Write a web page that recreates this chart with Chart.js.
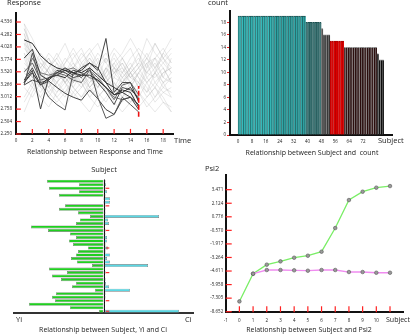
<!DOCTYPE html>
<html>
<head>
<meta charset="utf-8">
<script src="https://cdn.jsdelivr.net/npm/chart.js@4/dist/chart.umd.min.js"></script>
<style>
  body { margin: 0; background: #fff; }
  #wrap { position: relative; width: 410px; height: 334px; overflow: hidden; font-family: "Open Sans", sans-serif; color: #222; }
  canvas { position: absolute; }
  .t { position: absolute; white-space: nowrap; line-height: 1; }
  .cap { font-size: 7px; transform: translateX(-50%); }
  .lab { font-size: 7.5px; }
</style>
</head>
<body>
<div id="wrap">
  <canvas id="c1" width="205" height="167" style="left:0;top:0"></canvas>
  <canvas id="c2" width="205" height="167" style="left:205px;top:0"></canvas>
  <canvas id="c3" width="205" height="167" style="left:0;top:167px"></canvas>
  <canvas id="c4" width="205" height="167" style="left:205px;top:167px"></canvas>

  <div class="t lab" style="left:7px;top:-1px">Response</div>
  <div class="t lab" style="left:174px;top:137px">Time</div>
  <div class="t cap" style="left:95px;top:148px">Relationship between Response and Time</div>

  <div class="t lab" style="left:208px;top:-1px">count</div>
  <div class="t lab" style="left:378px;top:137px">Subject</div>
  <div class="t cap" style="left:312px;top:149px">Relationship between Subject and&nbsp; count</div>

  <div class="t lab" style="left:104px;top:166px;transform:translateX(-50%)">Subject</div>
  <div class="t lab" style="left:16px;top:316px">Yi</div>
  <div class="t lab" style="left:185px;top:316px">Ci</div>
  <div class="t cap" style="left:103px;top:326px">Relationship between Subject, Yi and Ci</div>

  <div class="t lab" style="left:205px;top:165px">Psi2</div>
  <div class="t lab" style="left:386px;top:316px;font-size:7px">Subject</div>
  <div class="t cap" style="left:309px;top:326px">Relationship between Subject and Psi2</div>
</div>
<script>
// ---------- panel 1 : Response vs Time ----------
const respTicks = [2.250, 2.504, 2.758, 3.012, 3.266, 3.520, 3.774, 4.028, 4.282, 4.536];
const timeTicks = [0, 2, 4, 6, 8, 10, 12, 14, 16, 18];

// highlighted subjects, time 1..15
const darkLines = [
  [4.17, 4.10, 3.85, 3.70, 3.60, 3.55, 3.50, 3.45, 3.45, 3.35, 3.20, 3.05, 3.10, 3.20, 2.95],
  [3.80, 3.98, 3.45, 3.35, 3.50, 3.60, 3.50, 3.55, 3.70, 3.60, 3.30, 3.20, 3.10, 3.00, 2.85],
  [3.30, 3.55, 2.76, 3.40, 3.45, 3.55, 3.45, 3.60, 3.70, 3.55, 4.20, 3.10, 3.30, 3.30, 2.90],
  [3.25, 3.90, 3.30, 3.00, 2.85, 2.74, 3.50, 3.40, 3.60, 3.00, 2.57, 2.65, 3.00, 2.85, 2.70],
  [3.35, 3.60, 3.25, 3.33, 3.20, 3.08, 3.00, 2.94, 3.15, 2.97, 2.75, 2.65, 2.95, 3.00, 2.75],
  [3.52, 3.70, 3.35, 3.40, 3.50, 3.45, 3.35, 3.30, 3.55, 3.40, 3.20, 2.95, 3.25, 3.30, 3.05],
  [3.30, 3.50, 3.25, 3.40, 3.45, 3.40, 3.55, 3.50, 3.60, 3.45, 3.30, 3.05, 3.15, 3.10, 2.80],
  [3.25, 3.35, 3.30, 3.35, 3.55, 3.50, 3.40, 3.45, 3.55, 3.30, 3.10, 2.85, 3.20, 3.15, 3.00],
  [3.30, 3.80, 3.50, 3.45, 3.50, 3.55, 3.60, 3.50, 3.40, 3.35, 3.20, 3.00, 2.95, 3.00, 2.85]
];
const darkColors = ['#2a2a2a', '#3a3a3a', '#444', '#555', '#404040', '#666', '#303030', '#4a4a4a', '#777'];

// background subjects, time 1..19
const greyLines = [
  [4.5,3.9,3.6,3.4,3.7,3.3,3.5,3.6,3.2,3.4,3.8,3.5,3.3,3.6,3.9,3.4,3.2,3.5,3.6],
  [4.3,3.7,3.5,3.8,3.4,3.6,3.2,3.5,3.7,3.3,3.5,3.9,3.6,3.4,3.3,3.7,3.8,3.4,3.3],
  [4.1,3.5,3.3,3.6,3.2,3.0,3.4,3.3,3.6,3.8,3.4,3.2,3.5,3.7,3.4,3.1,3.5,3.9,3.7],
  [3.9,3.6,3.8,3.5,3.3,3.7,3.9,3.6,3.4,3.2,3.6,3.4,3.8,4.0,3.6,3.8,3.5,3.3,3.5],
  [3.6,3.3,3.1,3.4,3.6,3.4,3.2,3.0,3.3,3.5,3.1,3.3,3.0,3.2,3.5,3.3,3.0,3.2,3.1],
  [4.4,4.0,3.7,3.5,3.2,3.4,3.6,3.9,3.7,3.5,3.3,3.6,3.8,3.5,3.2,3.6,4.1,3.8,3.6],
  [3.4,3.2,3.5,3.3,3.0,3.2,3.5,3.4,3.1,3.3,3.6,3.3,3.1,2.9,3.2,3.5,3.4,3.6,3.3],
  [4.0,3.8,3.4,3.2,3.5,3.8,3.6,3.3,3.5,3.7,3.9,3.6,3.4,3.6,3.8,3.5,3.7,3.4,3.8],
  [3.2,3.0,3.3,3.1,2.9,3.1,3.3,3.5,3.2,3.0,3.2,3.4,3.3,3.1,3.3,3.0,3.2,2.9,2.8],
  [4.2,3.6,3.9,3.7,3.4,3.6,3.3,3.6,3.9,4.1,3.7,3.5,3.7,3.4,3.6,3.9,3.6,3.8,4.0],
  [3.8,3.4,3.2,3.0,3.3,3.5,3.7,3.4,3.2,3.4,3.1,3.0,3.3,3.5,3.2,3.4,3.6,3.3,3.4],
  [2.7,3.1,3.4,3.2,3.5,3.3,3.0,3.2,3.4,3.1,2.9,3.2,3.0,3.3,3.1,2.8,3.0,3.3,3.0],
  [4.5,4.2,3.8,3.6,3.8,4.1,3.7,3.5,3.8,3.6,3.4,3.7,3.9,4.2,3.9,3.6,3.8,4.0,3.7],
  [3.5,3.7,3.4,3.6,3.8,3.5,3.3,3.7,3.5,3.2,3.5,3.7,3.4,3.2,3.5,3.7,3.3,3.5,3.6],
  [3.0,3.3,3.5,3.2,3.0,2.8,3.1,3.3,3.0,2.8,3.0,3.2,2.9,3.1,2.8,3.0,3.2,3.0,2.7],
  [4.1,3.9,3.6,3.9,3.7,3.5,3.8,4.0,3.6,3.9,3.7,4.0,3.8,3.5,3.7,4.2,3.9,3.7,3.9],
  [3.6,3.4,3.7,3.5,3.3,3.1,3.4,3.2,3.5,3.3,3.6,3.8,3.5,3.3,3.0,3.3,3.5,3.2,3.4],
  [3.3,3.5,3.2,3.4,3.6,3.3,3.5,3.3,3.0,3.2,3.4,3.1,3.4,3.6,3.4,3.2,2.9,3.1,3.2],
  [4.3,3.8,3.5,3.3,3.5,3.7,4.0,3.7,3.9,3.6,3.8,3.6,3.5,3.8,4.0,3.8,3.6,3.9,4.2],
  [3.7,3.5,3.3,3.6,3.9,3.6,3.4,3.6,3.8,3.5,3.3,3.5,3.7,3.4,3.6,3.3,3.5,3.7,3.5],
  [2.9,3.2,3.0,2.8,3.1,3.3,3.1,2.9,2.7,3.0,3.2,2.9,2.7,2.9,3.1,2.9,2.7,2.9,2.7],
  [3.9,3.4,3.6,3.8,3.5,3.3,3.6,3.8,4.0,3.7,3.4,3.6,3.3,3.5,3.7,3.5,3.8,3.6,3.3],
  [3.5,3.3,3.0,3.3,3.1,3.4,3.2,3.0,3.2,3.4,3.2,3.0,3.2,3.5,3.3,3.1,3.3,3.1,3.0],
  [4.4,3.9,3.4,3.1,3.3,3.5,3.3,3.5,3.3,3.5,3.3,3.5,3.6,3.3,3.5,3.8,4.1,3.8,3.5]
];
const redBar = [2.60, 3.23];   // range marker at time 15

// ---------- panel 2 : count per subject ----------
const subjectTicks = [0, 8, 16, 24, 32, 40, 48, 56, 64, 72];
const countTicks = [0, 2, 4, 6, 8, 10, 12, 14, 16, 18];
const counts = [
  19,19,19,19,19,19,19,19,19,19, 19,19,19,19,19,19,19,19,19,19,
  19,19,19,19,19,19,19,19,19,19, 19,19,19,19,19,19,19,19,19,
  18,18,18,18,18,18,18,18,18,
  17,
  16,16,16,16,
  15,15,15,15,15,15,15,15,
  14,14,14,14,14,14,14,14,14,14, 14,14,14,14,14,14,14,14,14,
  13,
  12,12,12
];

// ---------- panel 3 : Yi and Ci per subject ----------
const subjects3 = Array.from({length: 38}, (_, i) => String(i + 1));
const yi = [-57,-25,-55,-25,-45,-1,-1,-39,-45,-26,-14,-24,-28,-73,-56,-34,-28,-35,-31,-16,
            -26,-28,-33,-27,-12,-55,-37,-52,-43,-28,-32,-9,-48,-52,-49,-75,-34,-5];
const ci = [1.5,2,1.5,3,1.5,6,6,1.5,1.5,1.5,55,4,5,1,1.5,1.5,3,3,1.5,4,
            1.5,6,3,6,44,1,1.5,1,1.5,2,5,26,1.5,1.5,1,1,1,75];
const redRows = ['3', '8', '15', '20', '27', '35', '38'];

// ---------- panel 4 : Psi2 ----------
const psiTicks = [-8.652, -7.305, -5.958, -4.611, -3.264, -1.917, -0.570, 0.776, 2.124, 3.471];
const psiX = [-1, 0, 1, 2, 3, 4, 5, 6, 7, 8, 9, 10];
const psiGreen = [-7.63, -4.88, -3.98, -3.65, -3.29, -3.09, -2.69, -0.34, 2.44, 3.27, 3.67, 3.83];
const psiPink = [-4.88, -4.51, -4.51, -4.54, -4.58, -4.51, -4.51, -4.71, -4.71, -4.78, -4.78];

const FONT = "'Open Sans', sans-serif";
Chart.defaults.font.family = FONT;
Chart.defaults.color = '#222';
Chart.defaults.animation = false;
Chart.defaults.plugins.legend.display = false;
Chart.defaults.plugins.tooltip.enabled = false;

const fixTicks = list => scale => { scale.ticks = list.map(v => ({value: v})); };
const tickMarks = (pts, color, r, rot) => ({
  type: 'scatter', data: pts, showLine: false, pointStyle: 'line',
  pointRadius: r, pointRotation: rot, borderColor: color, borderWidth: 1.2,
  pointBorderColor: color, pointBorderWidth: 1.2, clip: false
});

// panel 1
const ds1 = [];
ds1.push(tickMarks(timeTicks.slice(1).map(t => ({x: t, y: 2.305})), '#ff2020', 2.4, 90));
ds1.push(tickMarks(respTicks.map(v => ({x: 0.3, y: v})), '#ff2020', 2.4, 0));
ds1.push({type: 'line', data: redBar.map(v => ({x: 15, y: v})), borderColor: '#ee1111',
          borderWidth: 1.6, borderDash: [5, 2], pointRadius: 0});
darkLines.forEach((l, k) => ds1.push({
  type: 'line', data: l.map((v, i) => ({x: i + 1, y: v})), borderColor: darkColors[k],
  borderWidth: 1, pointRadius: 0, tension: 0
}));
greyLines.forEach(l => ds1.push({
  type: 'line', data: l.map((v, i) => ({x: i + 1, y: v})), borderColor: 'rgba(170,170,170,0.35)',
  borderWidth: 0.8, pointRadius: 0, tension: 0
}));
new Chart(document.getElementById('c1'), {
  type: 'line',
  data: {datasets: ds1},
  options: {
    responsive: false, maintainAspectRatio: false,
    layout: {autoPadding: false, padding: {left: 0, top: 13, right: 32, bottom: 0}},
    scales: {
      x: {type: 'linear', min: 0, max: 19.2, afterBuildTicks: fixTicks(timeTicks),
          afterFit: s => { s.height = 33; },
          grid: {display: false, drawTicks: false}, border: {color: '#111', width: 2},
          ticks: {font: {size: 4.5}, padding: 4, maxRotation: 0}},
      y: {type: 'linear', min: 2.25, max: 4.72, afterBuildTicks: fixTicks(respTicks),
          afterFit: s => { s.width = 16; },
          grid: {display: false, drawTicks: false}, border: {color: '#111', width: 2},
          ticks: {font: {size: 4.5}, padding: 4, callback: v => v.toFixed(3)}}
    }
  }
});

// panel 2
const barColor = i => {
  if (i < 39) return i < 20 ? '#36bcbc' : '#30a8a8';
  if (i < 48) return '#3f7777';
  if (i < 49) return '#555555';
  if (i < 53) return '#383838';
  if (i < 61) return '#dd0000';
  if (i < 80) return '#2a0c0c';
  return '#0a0a0a';
};
const barEdge = i => {
  if (i < 48) return '#1c5050';
  if (i < 53) return '#777777';
  if (i < 61) return '#aa0000';
  return '#8a8a8a';
};
new Chart(document.getElementById('c2'), {
  type: 'bar',
  data: {datasets: [{
    data: counts.map((c, i) => ({x: i + 0.5, y: c})),
    backgroundColor: counts.map((c, i) => barColor(i)),
    borderColor: counts.map((c, i) => barEdge(i)),
    borderWidth: {left: 0.7, right: 0, top: 1, bottom: 0},
    borderSkipped: false,
    barPercentage: 1, categoryPercentage: 1
  }]},
  options: {
    responsive: false, maintainAspectRatio: false,
    layout: {autoPadding: false, padding: {left: 0, top: 11, right: 18, bottom: 0}},
    scales: {
      x: {type: 'linear', min: 0, max: 84, afterBuildTicks: fixTicks(subjectTicks),
          afterFit: s => { s.height = 32; },
          grid: {display: false, drawTicks: false}, border: {color: '#111', width: 2},
          ticks: {font: {size: 4.5}, padding: 4, maxRotation: 0}},
      y: {type: 'linear', min: 0, max: 19.8, afterBuildTicks: fixTicks(countTicks),
          afterFit: s => { s.width = 25; },
          grid: {drawOnChartArea: false, drawTicks: true, tickLength: 3, color: '#ee2222'},
          border: {color: '#111', width: 2},
          ticks: {font: {size: 4.5}, padding: 1}}
    }
  }
});

// panel 3
new Chart(document.getElementById('c3'), {
  type: 'bar',
  data: {
    labels: subjects3,
    datasets: [
      tickMarks(redRows.map(r => ({x: 3.5, y: r})), '#ff3030', 1.8, 0),
      {data: ci, backgroundColor: '#5ad8e4', borderColor: '#7a7a7a', borderWidth: 0.6,
       barPercentage: 0.86, categoryPercentage: 1, grouped: false, borderSkipped: false},
      {data: yi, backgroundColor: '#1fd01f', borderColor: '#7a7a7a', borderWidth: 0.6,
       barPercentage: 0.86, categoryPercentage: 1, grouped: false, borderSkipped: false}
    ]
  },
  options: {
    indexAxis: 'y',
    responsive: false, maintainAspectRatio: false,
    layout: {autoPadding: false, padding: {left: 14, top: 12.5, right: 12, bottom: 0}},
    scales: {
      x: {type: 'linear', min: -90, max: 89, afterBuildTicks: fixTicks([0]),
          afterFit: s => { s.height = 21; },
          grid: {display: true, drawTicks: false, color: '#000', lineWidth: 1},
          border: {color: '#333', width: 2},
          ticks: {display: false}},
      y: {type: 'category', display: false}
    }
  }
});

// panel 4
new Chart(document.getElementById('c4'), {
  type: 'line',
  data: {datasets: [
    tickMarks(psiX.slice(1).concat([11]).map(x => ({x: x, y: -8.41})), '#ff2020', 3, 90),
    tickMarks(psiTicks.map(v => ({x: -0.78, y: v})), '#ff2020', 3, 0),
    {data: psiPink.map((v, i) => ({x: i + 1, y: v})), borderColor: '#f08cf0', borderWidth: 1.3,
     pointRadius: 1.8, pointBackgroundColor: '#999', pointBorderColor: '#555', pointBorderWidth: 0.6},
    {data: psiGreen.map((v, i) => ({x: i, y: v})), borderColor: '#7aee66', borderWidth: 1.3,
     pointRadius: 1.8, pointBackgroundColor: '#999', pointBorderColor: '#555', pointBorderWidth: 0.6}
  ]},
  options: {
    responsive: false, maintainAspectRatio: false,
    layout: {autoPadding: false, padding: {left: 0, top: 8.3, right: 6.3, bottom: 0}},
    scales: {
      x: {type: 'linear', min: -1, max: 12, afterBuildTicks: fixTicks(psiX),
          afterFit: s => { s.height = 22.3; },
          grid: {display: false, drawTicks: false}, border: {color: '#111', width: 2},
          ticks: {font: {size: 4.5}, padding: 6, maxRotation: 0}},
      y: {type: 'linear', min: -8.652, max: 4.9, afterBuildTicks: fixTicks(psiTicks),
          afterFit: s => { s.width = 20.7; },
          grid: {display: false, drawTicks: false}, border: {color: '#111', width: 2},
          ticks: {font: {size: 4.5}, padding: 2.5, callback: v => v.toFixed(3)}}
    }
  }
});
</script>
</body>
</html>
